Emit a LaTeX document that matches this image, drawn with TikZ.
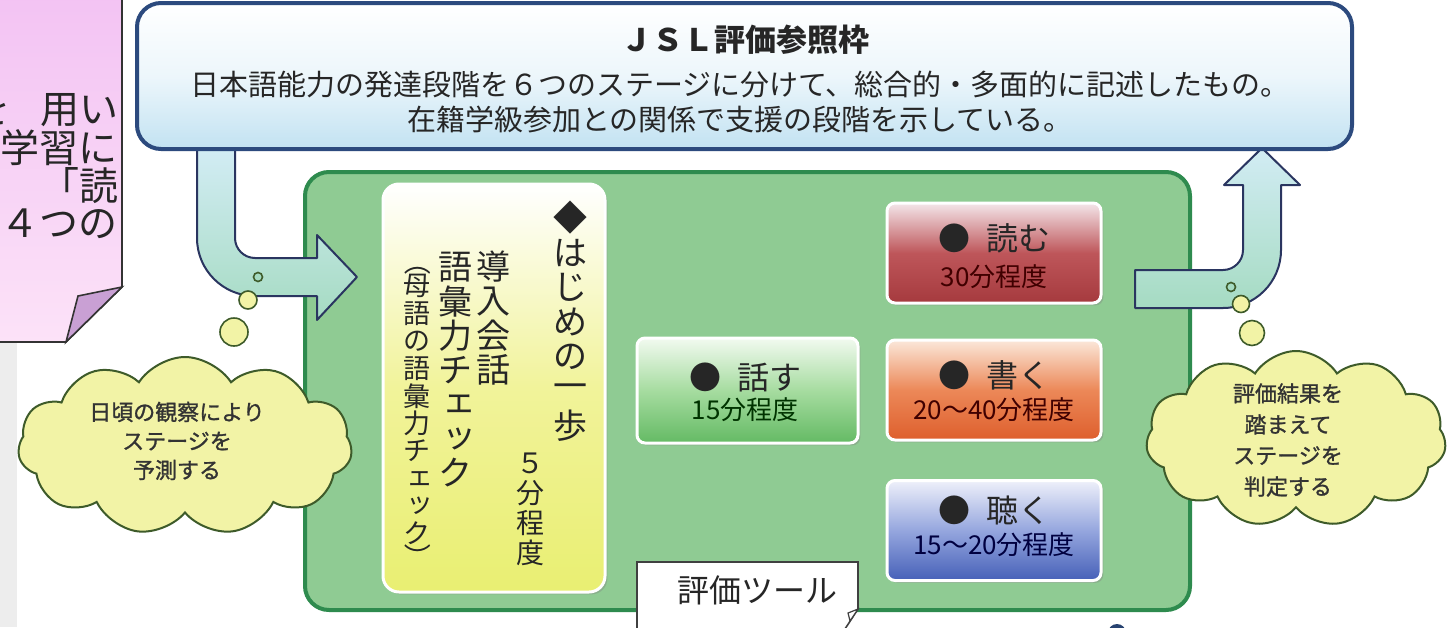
\documentclass[tikz,border=0pt]{standalone}
\usepackage{fontspec}
\setmainfont{Noto Sans CJK JP}
\newfontfamily\cloudfont[FakeBold=1.2]{Noto Sans CJK JP}
\usetikzlibrary{shapes.symbols,shadows}
\definecolor{navy}{HTML}{2C4A7E}
\definecolor{gbord}{HTML}{2E8B4E}
\definecolor{gfill}{HTML}{8FCB93}
\definecolor{arrline}{HTML}{2A3560}
\definecolor{arrblue}{HTML}{D2ECF4}
\definecolor{arrgreen}{HTML}{A5DBC2}
\definecolor{cloudfill}{HTML}{F2F3A6}
\definecolor{cloudline}{HTML}{3E5B2A}
\definecolor{pinktop}{HTML}{F3C3F3}
\definecolor{pinkbot}{HTML}{FCE2F8}
\definecolor{flap}{HTML}{C9A0D4}
\definecolor{boxblue}{HTML}{C2E2F2}
\definecolor{redT}{HTML}{F4E6EA}\definecolor{redM}{HTML}{BE565A}\definecolor{redB}{HTML}{A53A3E}
\definecolor{orT}{HTML}{FBE8DA}\definecolor{orM}{HTML}{EC8858}\definecolor{orB}{HTML}{DE5F2D}
\definecolor{blT}{HTML}{EEF0FA}\definecolor{blM}{HTML}{95A6DE}\definecolor{blB}{HTML}{4660B8}
\definecolor{grT}{HTML}{F2FAF0}\definecolor{grM}{HTML}{A6DCA0}\definecolor{grB}{HTML}{64BA64}
\definecolor{yeM}{HTML}{F1F39A}\definecolor{yeB}{HTML}{E9EF72}
\begin{document}
\begin{tikzpicture}[x=0.5pt,y=0.5pt,
 txt/.style={inner sep=0pt,outer sep=0pt,text=black!85},
 vt17/.style={txt,font=\fontsize{17pt}{17pt}\selectfont},
 vt13/.style={txt,font=\fontsize{13.5pt}{13.5pt}\selectfont},
 vt14/.style={txt,font=\fontsize{14pt}{14pt}\selectfont},
 skill/.style={rounded corners=4pt,draw=white,line width=1.5pt,minimum width=107pt,minimum height=50pt,inner sep=0pt,
   drop shadow={shadow xshift=1.2pt,shadow yshift=-1.2pt,opacity=0.35}},
 headtxt/.style={txt,font=\fontsize{16pt}{16pt}\selectfont},
 subtxt/.style={txt,font=\fontsize{13pt}{13pt}\selectfont},
 bubble/.style={circle,draw=cloudline,line width=0.8pt,fill=cloudfill,inner sep=0pt},
 cloudbox/.style={cloud,cloud puffs=11,cloud puff arc=115,draw=cloudline,line width=1pt,fill=cloudfill,inner sep=0pt},
 cloudtxt/.style={txt,align=center,text=black!80},
 arrowshape/.style={draw=arrline,line width=1pt,line join=round},
 pinktxt/.style={txt,anchor=east,font=\fontsize{19.5pt}{19.5pt}\selectfont},
]
\useasboundingbox (0,0) rectangle (1451,-627);
\fill[white] (0,0) rectangle (1451,-627);
\fill[black!7] (0,0) rectangle (17,-627);

% green frame
\node[draw=gbord,line width=2pt,fill=gfill,rounded corners=12pt,minimum width=442.5pt,minimum height=219pt,inner sep=0pt] (frame) at (747.5,-391) {};

% left bent arrow
\path[arrowshape,top color=arrblue,bottom color=arrgreen]
  (197,-149) -- (197,-238) arc[start angle=180,end angle=270,radius=58]
  -- (317,-296) -- (317,-320) -- (357,-277) -- (317,-235) -- (317,-258) -- (255,-258)
  arc[start angle=270,end angle=180,radius=20] -- (235,-149) -- cycle;
% right bent arrow
\path[arrowshape,top color=arrblue,bottom color=arrgreen]
  (1135,-270) -- (1223,-270) arc[start angle=270,end angle=360,radius=20]
  -- (1243,-185) -- (1224,-185) -- (1262,-148) -- (1300,-185) -- (1281,-185) -- (1281,-250)
  arc[start angle=0,end angle=-90,radius=58] -- (1135,-308) -- cycle;

% top box
\node[draw=navy,line width=2pt,rounded corners=12pt,top color=white,bottom color=boxblue,middle color=white!70!boxblue,
  minimum width=607.5pt,minimum height=73pt,inner sep=0pt] (jsl) at (744.5,-76) {};
\node[txt,font=\fontsize{15.5pt}{15.5pt}\selectfont\bfseries] (jslT) at (745,-40) {ＪＳＬ評価参照枠};
\node[txt,font=\fontsize{14.5pt}{14.5pt}\selectfont] (jslA) at (740,-84) {日本語能力の発達段階を６つのステージに分けて、総合的・多面的に記述したもの。};
\node[txt,font=\fontsize{14.5pt}{14.5pt}\selectfont] (jslB) at (740,-119) {在籍学級参加との関係で支援の段階を示している。};

% first-step box
\node[rounded corners=8pt,draw=white,line width=1.5pt,top color=white,bottom color=yeB,middle color=yeM,
  minimum width=111pt,minimum height=204pt,inner sep=0pt,
  drop shadow={shadow xshift=1.2pt,shadow yshift=-1.2pt,opacity=0.35}] (first) at (494,-388) {};
\foreach \ch [count=\i from 0] in {◆,は,じ,め,の,一,歩}
  \node[vt17] (ha\i) at (570,{-218-34.6*\i}) {\ch};
\foreach \ch [count=\i from 0] in {導,入,会,話}
  \node[vt17] (du\i) at (493,{-267-34.3*\i}) {\ch};
\foreach \ch/\dx [count=\i from 0] in {語/0,彙/0,力/0,チ/0,ェ/4,ッ/4,ク/0}
  \node[vt17] (go\i) at ({455+\dx},{-267-34.3*\i}) {\ch};
\foreach \ch/\dx/\y in {母/0/286,語/0/313.5,の/0/341,語/0/368.5,彙/0/396,力/0/423.5,チ/0/451,ェ/3/478.5,ッ/3/506,ク/0/533.5}
  \node[vt13] (bo\y) at ({417+\dx},-\y) {\ch};
\node[vt13] (boOpen) at (418,-262) {\rotatebox{-90}{（}};
\node[vt13] (boClose) at (418,-557) {\rotatebox{-90}{）}};
\foreach \ch [count=\i from 0] in {５,分,程,度}
  \node[vt14] (fm\i) at (530,{-463-30*\i}) {\ch};

% skill boxes
\node[skill,top color=redT,bottom color=redB,middle color=redM] (yomu) at (994,-253) {};
\node[headtxt] (yomuA) at (994,-238) {●\hspace{0.5em}読む};
\node[subtxt,text=red!25!black] (yomuB) at (994,-277) {30分程度};

\node[skill,top color=orT,bottom color=orB,middle color=orM] (kaku) at (994,-390) {};
\node[headtxt] (kakuA) at (994,-375) {●\hspace{0.5em}書く};
\node[subtxt,text=red!25!black] (kakuB) at (994,-410) {20〜40分程度};

\node[skill,top color=blT,bottom color=blB,middle color=blM] (kiku) at (994,-530.5) {};
\node[headtxt] (kikuA) at (994,-510) {●\hspace{0.5em}聴く};
\node[subtxt,text=blue!25!black] (kikuB) at (994,-545) {15〜20分程度};

\node[skill,minimum width=110.5pt,minimum height=52.5pt,top color=grT,bottom color=grB,middle color=grM] (hanasu) at (747.5,-390.5) {};
\node[headtxt] (hanasuA) at (745,-377) {●\hspace{0.5em}話す};
\node[subtxt,text=green!20!black] (hanasuB) at (745,-410) {15分程度};

% tool callout
\path[draw=black!75,line width=0.8pt,fill=white] (637,-640) -- (637,-562) -- (858,-562) -- (858,-609) -- (843,-632);
\path[draw=black!75,line width=0.6pt,fill=white] (858,-609) -- (848,-613) -- (850,-621) -- cycle;
\node[txt,font=\fontsize{16pt}{16pt}\selectfont] (tool) at (757,-590) {評価ツール};
\node[circle,fill=navy!90!black,minimum size=9pt,inner sep=0pt] (dot) at (1117,-633) {};

% bubbles and clouds
\node[circle,draw=cloudline,line width=0.8pt,fill=arrgreen,minimum size=4.5pt,inner sep=0pt] (lb1) at (258,-277) {};
\node[bubble,minimum size=9pt] (lb2) at (248,-300) {};
\node[bubble,minimum size=14pt] (lb3) at (234,-332) {};
\node[circle,draw=cloudline,line width=0.8pt,fill=arrgreen,minimum size=4.5pt,inner sep=0pt] (rb1) at (1231,-287) {};
\node[bubble,minimum size=8.5pt] (rb2) at (1241,-304) {};
\node[bubble,minimum size=12.5pt] (rb3) at (1252,-333) {};

\node[cloudbox,minimum width=167pt,minimum height=89pt] (cloudL) at (185,-446) {};
\node[cloudtxt,font=\cloudfont\fontsize{11pt}{14.5pt}\selectfont] (cloudLT) at (177,-441) {日頃の観察により\\ステージを\\予測する};
\node[cloudbox,minimum width=150pt,minimum height=88pt] (cloudR) at (1296,-439) {};
\node[cloudtxt,font=\cloudfont\fontsize{11pt}{15.5pt}\selectfont] (cloudRT) at (1288,-440) {評価結果を\\踏まえて\\ステージを\\判定する};

% pink callout (cut by the left edge)
\path[draw=black!80,line width=0.8pt,top color=pinktop,bottom color=pinkbot] (-5,5) -- (122,5) -- (122,-287) -- (66,-342) -- (-5,-342) -- cycle;
\path[draw=black!80,line width=0.8pt,fill=flap] (122,-287) -- (78,-296) -- (66,-342) -- cycle;
\begin{scope}
\clip (0,0) rectangle (121,-340);
\node[pinktxt] (p1) at (118,-110) {を\hspace{0.75em}用い};
\node[pinktxt] (p2) at (118,-148) {学習に};
\node[pinktxt] (p3) at (118,-186) {「読};
\node[pinktxt] (p4) at (118,-224) {４つの};
\end{scope}
\end{tikzpicture}
\end{document}
